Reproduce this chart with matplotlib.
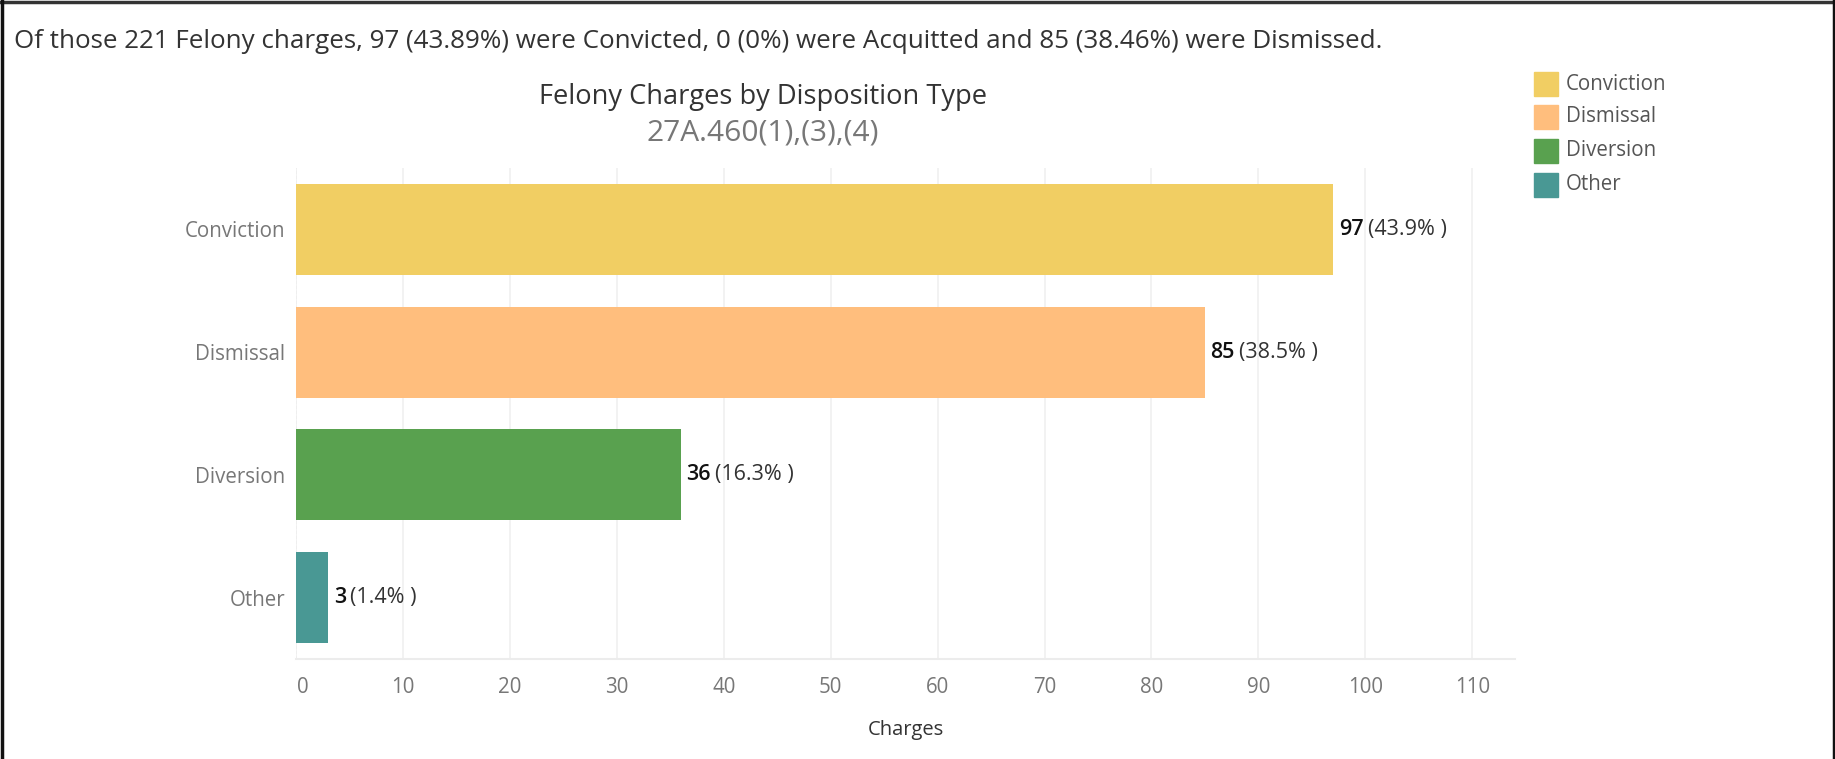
import matplotlib
matplotlib.use("Agg")
import matplotlib.pyplot as plt
import matplotlib.transforms as mtransforms
from matplotlib.lines import Line2D

categories = ["Conviction", "Dismissal", "Diversion", "Other"]
counts = [97, 85, 36, 3]
percents = ["43.9%", "38.5%", "16.3%", "1.4%"]
colors = ["#F1CE63", "#FFBE7D", "#59A14F", "#499894"]
xticks = [0, 10, 20, 30, 40, 50, 60, 70, 80, 90, 100, 110]
caption = ("Of those 221 Felony charges, 97 (43.89%) were Convicted, 0 (0%) were "
           "Acquitted and 85 (38.46%) were Dismissed.")
title = "Felony Charges by Disposition Type"
subtitle = "27A.460(1),(3),(4)"
xlabel = "Charges"

plt.rcParams['font.family'] = ['Open Sans', 'DejaVu Sans']

W, H = 1835, 759
fig = plt.figure(figsize=(W / 100, H / 100), dpi=100)

def fx(px):
    return px / W

def fy(py):
    return 1 - py / H

ax = fig.add_axes([fx(296), fy(659), fx(1515) - fx(296), fy(168) - fy(659)])
ypos = list(range(len(categories)))
ax.barh(ypos, counts, height=0.74, color=colors, zorder=3)
ax.set_ylim(len(categories) - 0.5, -0.5)
ax.set_xlim(0, 114)
ax.set_xticks(xticks)
ax.set_xticklabels([str(t) for t in xticks])
ax.set_yticks(ypos)
ax.set_yticklabels(categories)
ax.tick_params(axis='x', length=0, pad=13, labelsize=14.8, labelcolor='#777777')
ax.tick_params(axis='y', length=0, pad=8, labelsize=14.8, labelcolor='#777777')
# Tableau nudges the first tick label to the right of the zero line
first = ax.get_xticklabels()[0]
first.set_transform(first.get_transform() +
                    mtransforms.ScaledTranslation(7 / 100, 0, fig.dpi_scale_trans))
ax.grid(axis='x', color='#f0f0f0', linewidth=1.2, zorder=0)
for s in ['top', 'right', 'left']:
    ax.spines[s].set_visible(False)
ax.spines['bottom'].set_color('#ececec')
ax.spines['bottom'].set_linewidth(1.5)
ax.axvline(0, color='#e6e6e6', linewidth=1.2, linestyle=(0, (2, 1)), zorder=1)
ax.set_xlabel(xlabel, fontsize=14.5, color='#333333', labelpad=16)

for y, c, p in zip(ypos, counts, percents):
    t1 = ax.annotate(str(c), xy=(c, y), xytext=(4, 0), textcoords='offset points',
                     ha='left', va='center', fontsize=15.5, fontweight='semibold',
                     color='#111111', zorder=4)
    ax.annotate("(" + p + " )", xy=(1, 0.5), xycoords=t1, xytext=(3, 0),
                textcoords='offset points', ha='left', va='center',
                fontsize=15.5, color='#333333', zorder=4)

fig.text(fx(14), fy(41), caption, ha='left', va='center', fontsize=18.7, color='#333333')
fig.text(fx(763), fy(97), title, ha='center', va='center', fontsize=19.6, color='#333333')
fig.text(fx(763), fy(133), subtitle, ha='center', va='center', fontsize=21.5, color='#777777')

# legend
leg_y = [84, 117, 151, 185]
for cat, col, yy in zip(categories, colors, leg_y):
    fig.patches.append(matplotlib.patches.Rectangle((fx(1534), fy(yy + 12)), fx(24), 24 / H,
                                                    transform=fig.transFigure, color=col))
    fig.text(fx(1566), fy(yy), cat, ha='left', va='center', fontsize=14.8, color='#555555')

# frame
fig.add_artist(Line2D([0, 1], [fy(1.5), fy(1.5)], transform=fig.transFigure, color='#333333', linewidth=2.5))
fig.add_artist(Line2D([fx(1.5), fx(1.5)], [0, 1], transform=fig.transFigure, color='#111111', linewidth=2.5))
fig.add_artist(Line2D([fx(W - 1.5), fx(W - 1.5)], [0, 1], transform=fig.transFigure, color='#111111', linewidth=2.5))

fig.savefig("out.png", dpi=100)
